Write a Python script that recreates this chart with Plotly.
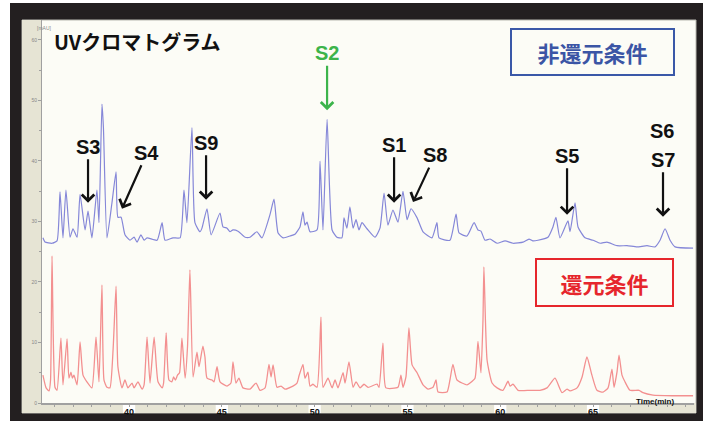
import plotly.graph_objects as go

# ---- data (retention time in min, absorbance in mAU) ----
non_reduced_time = [35.36, 35.47, 35.85, 36.12, 36.28, 36.44, 36.60, 36.82, 36.98, 37.20, 37.36, 37.63, 37.79,
                    38.00, 38.27, 38.38, 38.54, 38.62, 38.81, 39.08, 39.30, 39.40, 39.57, 39.78, 40.05, 40.27,
                    40.43, 40.64, 40.81, 40.97, 41.51, 41.78, 41.94, 42.37, 42.75, 42.96, 43.12, 43.39, 43.55,
                    43.82, 43.93, 44.20, 44.42, 44.90, 45.06, 45.28, 45.44, 45.60, 45.87, 46.25, 46.52, 46.89,
                    47.16, 47.59, 47.81, 48.03, 48.30, 48.67, 48.94, 49.21, 49.37, 49.48, 49.59, 49.75, 50.13,
                    50.29, 50.45, 50.67, 50.94, 51.20, 51.47, 51.58, 51.74, 51.90, 52.07, 52.23, 52.39, 52.55,
                    52.82, 53.25, 53.52, 53.74, 53.95, 54.22, 54.49, 54.76, 54.98, 55.19, 55.52, 55.84, 56.32,
                    56.59, 56.70, 57.29, 57.62, 57.78, 58.21, 58.59, 58.80, 58.96, 59.18, 59.45, 59.83, 60.26,
                    60.69, 61.23, 61.55, 61.76, 62.03, 62.57, 62.84, 63.00, 63.22, 63.65, 63.76, 64.03, 64.19,
                    64.57, 65.00, 65.38, 65.75, 66.29, 66.83, 67.37, 67.91, 68.34, 68.61, 68.88, 69.15, 69.42,
                    70.39]
non_reduced_mau = [27.3, 26.6, 26.4, 26.8, 34.9, 27.3, 35.2, 27.4, 28.8, 27.4, 34.5, 28.6, 31.7,
                   27.3, 35.2, 29.8, 49.4, 45.5, 27.3, 33.1, 38.2, 30.7, 30.7, 27.8, 26.9, 27.4,
                   26.6, 27.8, 26.9, 27.3, 26.9, 29.8, 26.9, 27.3, 27.3, 35.2, 29.8, 45.5, 29.8,
                   28.3, 28.9, 32.1, 27.8, 31.4, 29.1, 28.9, 28.3, 28.6, 28.4, 27.4, 27.4, 28.3,
                   27.3, 31.1, 33.7, 28.1, 27.3, 27.6, 27.9, 29.1, 31.6, 29.4, 29.9, 28.3, 28.6,
                   40.0, 28.6, 46.9, 28.6, 27.4, 27.3, 30.6, 28.9, 32.4, 28.9, 30.3, 28.6, 29.8,
                   28.8, 27.4, 28.9, 34.7, 29.4, 31.9, 29.9, 35.0, 30.3, 32.1, 30.6, 28.3, 27.3,
                   29.8, 27.3, 26.9, 31.2, 28.1, 27.6, 29.8, 28.6, 28.4, 26.9, 27.1, 26.4, 26.8,
                   26.4, 26.6, 27.1, 26.8, 26.9, 27.4, 29.1, 30.7, 27.3, 30.1, 28.3, 33.1, 29.1,
                   27.3, 26.9, 26.4, 26.6, 26.0, 26.0, 25.8, 26.0, 25.8, 26.9, 28.8, 26.9, 25.8,
                   25.6]

reduced_time = [35.36, 35.53, 35.69, 35.77, 35.85, 36.01, 36.12, 36.33, 36.44, 36.66, 36.76, 36.87, 36.95,
                37.03, 37.20, 37.36, 37.52, 37.73, 38.00, 38.22, 38.38, 38.54, 38.65, 38.81, 38.97, 39.14,
                39.30, 39.40, 39.62, 39.78, 39.94, 40.16, 40.27, 40.48, 40.70, 40.81, 40.97, 41.13, 41.35,
                41.56, 41.78, 41.86, 42.00, 42.15, 42.31, 42.40, 42.50, 42.61, 42.72, 42.85, 43.02, 43.15,
                43.28, 43.45, 43.66, 43.77, 43.98, 44.09, 44.20, 44.47, 44.58, 44.74, 44.90, 45.28, 45.49,
                45.60, 45.76, 45.92, 46.14, 46.52, 46.84, 47.06, 47.33, 47.54, 47.65, 47.76, 47.97, 48.19,
                48.40, 48.83, 49.05, 49.16, 49.37, 49.48, 49.64, 49.75, 49.91, 50.13, 50.34, 50.45, 50.72,
                50.94, 51.10, 51.26, 51.53, 51.64, 51.85, 52.07, 52.23, 52.45, 52.66, 52.88, 53.36, 53.47,
                53.68, 53.84, 54.49, 54.65, 54.76, 54.92, 55.08, 55.25, 55.52, 55.84, 56.11, 56.38, 56.54,
                56.65, 57.13, 57.29, 57.45, 57.67, 58.21, 58.37, 58.64, 58.80, 58.96, 59.07, 59.12, 59.29,
                59.56, 59.83, 60.15, 60.42, 60.53, 60.69, 60.96, 61.60, 62.14, 62.52, 62.95, 63.33, 63.60,
                63.76, 64.14, 64.41, 64.67, 64.94, 65.21, 65.54, 65.81, 66.02, 66.13, 66.29, 66.40, 66.56,
                66.72, 66.99, 67.48, 67.69, 68.23, 69.31, 70.39]
reduced_mau = [4.6, 2.5, 2.0, 3.8, 24.3, 2.6, 2.1, 10.7, 3.0, 10.6, 4.1, 5.1, 4.1,
               4.6, 3.0, 10.1, 4.6, 3.5, 2.5, 10.9, 3.5, 19.5, 3.8, 2.6, 2.5, 8.8,
               19.3, 6.0, 2.5, 3.8, 2.5, 3.3, 2.5, 3.5, 2.3, 3.0, 10.9, 3.3, 10.9,
               3.5, 2.5, 3.3, 11.6, 3.8, 3.5, 4.3, 3.8, 4.6, 5.0, 10.7, 4.1, 9.3,
               22.0, 4.3, 8.4, 6.0, 9.4, 7.6, 4.1, 3.8, 3.5, 6.0, 3.5, 2.8, 3.3,
               6.8, 3.3, 4.1, 2.5, 2.3, 3.3, 2.1, 2.5, 6.4, 4.3, 6.3, 2.6, 2.8,
               2.3, 2.8, 3.3, 4.5, 6.4, 4.1, 5.1, 2.8, 3.1, 2.6, 14.2, 2.6, 4.1,
               2.5, 3.8, 2.5, 5.0, 3.3, 6.8, 2.6, 3.5, 2.5, 3.1, 2.6, 3.1, 2.6,
               9.9, 2.5, 2.6, 4.6, 2.6, 4.3, 12.4, 6.3, 5.0, 3.0, 2.3, 2.6, 3.8,
               1.8, 1.8, 3.8, 6.4, 3.8, 3.0, 3.3, 4.1, 10.2, 5.0, 13.7, 22.5, 7.1,
               3.3, 2.5, 2.1, 3.6, 2.8, 3.1, 2.1, 2.1, 2.1, 2.5, 4.1, 1.7, 2.3,
               2.0, 2.5, 4.3, 7.6, 4.6, 2.1, 1.8, 2.5, 5.6, 2.6, 5.1, 7.9, 4.6,
               3.5, 2.1, 2.1, 1.7, 1.3, 1.2, 1.2]

x_tick_values = [40, 45, 50, 55, 60, 65]
y_tick_values = [0, 10, 20, 30, 40, 50, 60]
x_range = [35.31, 70.44]
y_range = [0, 63.3]

# peak labels: (text, head time, head mAU, dx px, dy px, color)
peak_labels = [
    ("S3", 37.79, 33.1, 0, -56, "#111111"),
    ("S4", 39.62, 32.1, 25, -56, "#111111"),
    ("S9", 44.15, 33.6, 0, -57, "#111111"),
    ("S2", 50.67, 48.4, 0, -57, "#3cb44b"),
    ("S1", 54.28, 33.1, 0, -58, "#111111"),
    ("S8", 55.30, 33.2, 22, -47, "#111111"),
    ("S5", 63.60, 31.1, 0, -59, "#111111"),
    ("S7", 68.77, 30.8, 0, -57, "#111111"),
]

fig = go.Figure()
fig.add_trace(go.Scatter(x=reduced_time, y=reduced_mau, mode="lines",
                         line=dict(color="#f39090", width=1.3, shape="spline", smoothing=0.5),
                         hoverinfo="skip"))
fig.add_trace(go.Scatter(x=non_reduced_time, y=non_reduced_mau, mode="lines",
                         line=dict(color="#8587d8", width=1.2, shape="spline", smoothing=0.5),
                         hoverinfo="skip"))

L, R, T, B = 42, 16, 20, 18
W, H = 710, 421
pw, ph = W - L - R, H - T - B


def px(xp):
    return (xp - L) / pw


def py(yp):
    return (H - B - yp) / ph


shapes = [
    dict(type="rect", xref="paper", yref="paper", x0=px(10), x1=px(703), y0=py(424), y1=py(3),
         fillcolor="#231f20", line=dict(width=0), layer="below"),
    dict(type="rect", xref="paper", yref="paper", x0=px(22), x1=px(696), y0=py(413), y1=py(20),
         fillcolor="#fcfcf6", line=dict(color="#b8b8b0", width=1), layer="below"),
    dict(type="rect", xref="paper", yref="paper", x0=px(22), x1=px(42), y0=py(413), y1=py(20),
         fillcolor="#e6e4d4", line=dict(width=0), layer="below"),
    dict(type="rect", xref="paper", yref="paper", x0=px(22), x1=px(696), y0=py(413), y1=py(403),
         fillcolor="#e6e4d4", line=dict(width=0), layer="below"),
]
# white boxes behind the x tick labels
for v in x_tick_values:
    shapes.append(dict(type="rect", xref="x", yref="paper", x0=v - 0.33, x1=v + 0.33,
                       y0=py(413), y1=py(404), fillcolor="white", line=dict(width=0), layer="below"))

annotations = [
    dict(text="<b>UVクロマトグラム</b>", xref="paper", yref="paper", x=px(52), y=py(42),
         xanchor="left", yanchor="middle", showarrow=False,
         font=dict(family="Noto Sans CJK JP", size=20, color="#111111")),
    dict(text="<b>非還元条件</b>", xref="paper", yref="paper", x=px(592), y=py(51.5),
         xanchor="center", yanchor="middle", showarrow=False, width=161, height=44,
         bordercolor="#3a58a8", borderwidth=2, borderpad=0,
         font=dict(family="Noto Sans CJK JP", size=22, color="#3b55a5")),
    dict(text="<b>還元条件</b>", xref="paper", yref="paper", x=px(604.5), y=py(282),
         xanchor="center", yanchor="middle", showarrow=False, width=135, height=45,
         bordercolor="#e6262c", borderwidth=2, borderpad=0,
         font=dict(family="Noto Sans CJK JP", size=22, color="#e6262c")),
    dict(text="<b>S6</b>", xref="x", yref="y", x=68.72, y=45.0, showarrow=False,
         font=dict(family="Liberation Sans", size=20, color="#111111")),
    dict(text="[mAU]", xref="paper", yref="paper", x=px(35), y=py(23), showarrow=False,
         font=dict(family="Liberation Sans", size=5, color="#888888")),
    dict(text="<b>Time(min)</b>", xref="paper", yref="paper", x=px(676), y=py(408),
         showarrow=False, font=dict(family="Liberation Sans", size=8, color="#111111")),
]

for text, t, v, dx, dy, col in peak_labels:
    annotations.append(dict(
        text=f"<b>{text}</b>", x=t, y=v, xref="x", yref="y", ax=dx, ay=dy,
        showarrow=True, arrowhead=4, arrowsize=1.1, arrowwidth=2.2, arrowcolor=col,
        font=dict(family="Liberation Sans", size=20, color=col)))

fig.update_layout(
    width=W, height=H, autosize=False,
    margin=dict(l=L, r=R, t=T, b=B, pad=0, autoexpand=False),
    paper_bgcolor="white", plot_bgcolor="rgba(0,0,0,0)",
    showlegend=False,
    shapes=shapes, annotations=annotations,
    xaxis=dict(range=x_range, showgrid=False, zeroline=False, showline=True, automargin=False,
               linecolor="#a0a0a0", linewidth=1.5, ticks="outside", ticklen=2,
               tickcolor="#a0a0a0", tickvals=x_tick_values, ticklabelstandoff=-3,
               ticktext=[f"<b>{v}</b>" for v in x_tick_values],
               tickfont=dict(family="Liberation Sans", size=9, color="#111111"),
               minor=dict(dtick=1, ticks="outside", ticklen=2, tickcolor="#a0a0a0")),
    yaxis=dict(range=y_range, showgrid=False, zeroline=False, showline=True, automargin=False,
               linecolor="#a0a0a0", linewidth=1, ticks="outside", ticklen=3,
               tickcolor="#a0a0a0", tickvals=y_tick_values,
               tickfont=dict(family="Liberation Sans", size=5, color="#888888"),
               minor=dict(dtick=5, ticks="outside", ticklen=2, tickcolor="#a0a0a0")),
)

fig.write_html("out.html", post_script="document.body.style.margin='0px';",
               config={"displayModeBar": False})
